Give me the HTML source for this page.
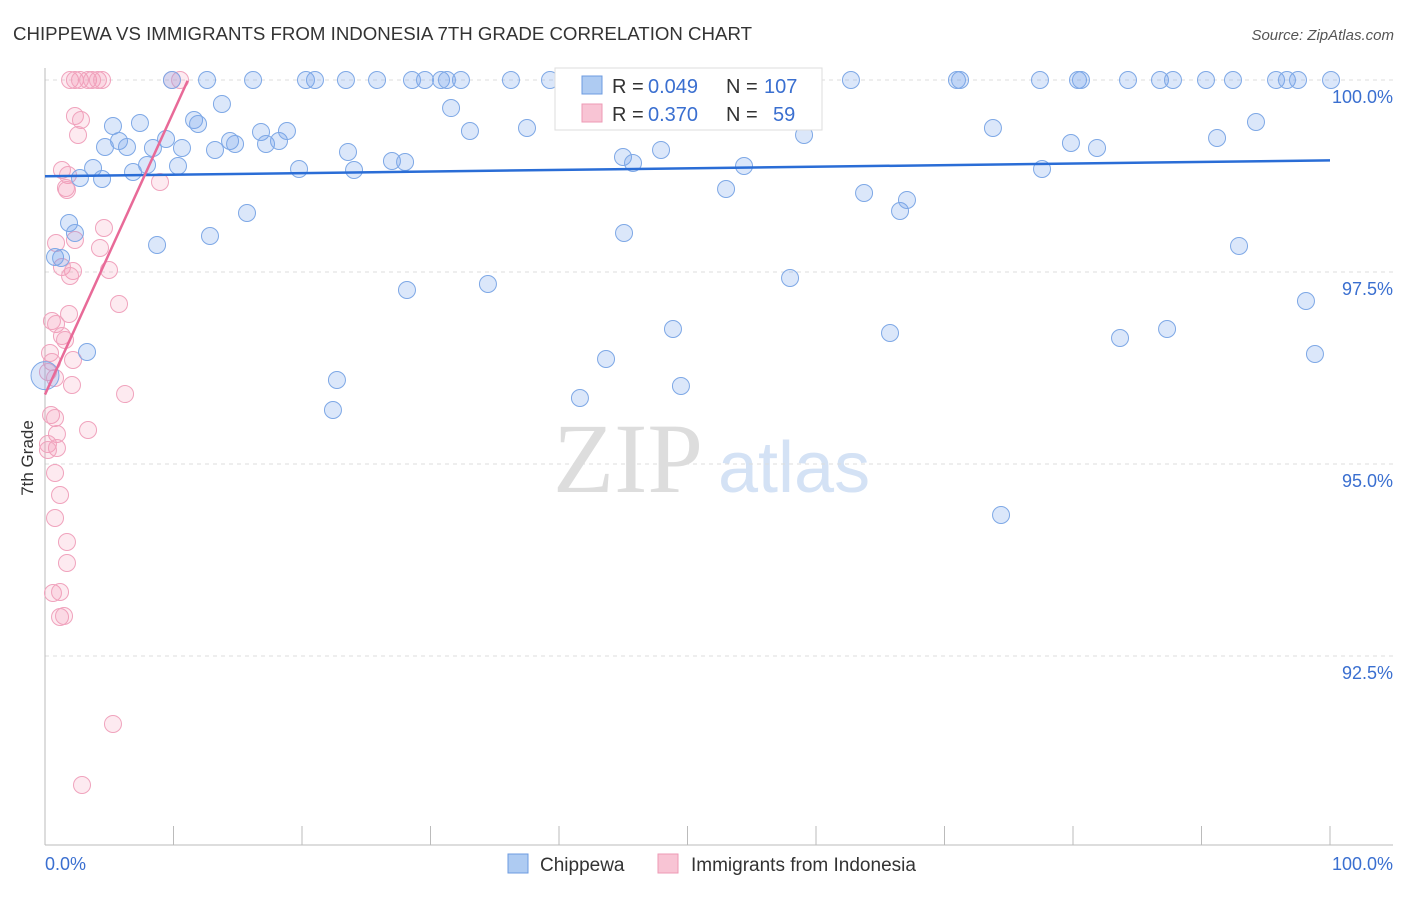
<!DOCTYPE html>
<html><head><meta charset="utf-8"><style>
body{margin:0;background:#fff;font-family:"Liberation Sans",sans-serif}
svg text{font-family:"Liberation Sans",sans-serif}
</style></head><body>
<svg id="c" width="1406" height="892" xmlns="http://www.w3.org/2000/svg">
<text x="13" y="40" font-size="18" fill="#333" textLength="739" lengthAdjust="spacingAndGlyphs">CHIPPEWA VS IMMIGRANTS FROM INDONESIA 7TH GRADE CORRELATION CHART</text>
<text x="1394" y="40" font-size="15" fill="#555" text-anchor="end" font-style="italic">Source: ZipAtlas.com</text>
<text x="0" y="0" transform="translate(33,458) rotate(-90)" font-size="17" fill="#333" text-anchor="middle">7th Grade</text>
<g><text x="553" y="492" font-size="100" fill="#ddd" font-family="Liberation Serif" style="font-family:'Liberation Serif',serif">ZIP</text><text x="718" y="492" font-size="72" fill="#d4e2f5">atlas</text></g>
<g id="grid"></g><g id="axes"></g><g id="pts"></g><g id="trend"></g>
<g>
<rect x="555" y="68" width="267" height="62" fill="#fff" stroke="#ddd"/>
<rect x="582" y="76" width="20" height="18" fill="#aecbf2" stroke="#6c9be0"/>
<text y="93" font-size="20" fill="#333"><tspan x="612">R =</tspan><tspan x="648" fill="#3a6fd0">0.049</tspan><tspan x="726">N =</tspan><tspan x="764" fill="#3a6fd0">107</tspan></text>
<rect x="582" y="104" width="20" height="18" fill="#f8c4d4" stroke="#ee9ab5"/>
<text y="121" font-size="20" fill="#333"><tspan x="612">R =</tspan><tspan x="648" fill="#3a6fd0">0.370</tspan><tspan x="726">N =</tspan><tspan x="773" fill="#3a6fd0">59</tspan></text>
</g>
<g>
<rect x="508" y="854" width="20" height="19" fill="#aecbf2" stroke="#6c9be0"/>
<text x="540" y="871" font-size="19" fill="#333">Chippewa</text>
<rect x="658" y="854" width="20" height="19" fill="#f8c4d4" stroke="#ee9ab5"/>
<text x="691" y="871" font-size="19" fill="#333">Immigrants from Indonesia</text>
</g>
</svg>
<script>
const yTicks=[100,97.5,95,92.5];
const yTickLabels=["100.0%","97.5%","95.0%","92.5%"];
const xTickLabels=["0.0%","100.0%"];
const bluePx=[[172,80],[207,80],[253,80],[306,80],[315,80],[346,80],[377,80],[412,80],[425,80],[441,80],[447,80],[461,80],[511,80],[550,80],[642,80],[708,80],[764,80],[851,80],[957,80],[960,80],[1040,80],[1078,80],[1081,80],[1128,80],[1160,80],[1173,80],[1206,80],[1233,80],[1276,80],[1287,80],[1298,80],[1331,80],
[194,120],[222,104],[113,126],[140,123],[119,141],[105,147],[127,147],[153,148],[166,139],[182,148],[198,124],[215,150],[230,141],[235,144],[261,132],[266,144],[279,141],[287,131],[93,168],[80,178],[102,179],[133,172],[178,166],[147,165],[69,223],[75,233],[55,257],[61,258],[157,245],[210,236],[247,213],[299,169],[348,152],[354,170],[392,161],[405,162],[451,108],[470,131],[527,128],[623,157],[633,163],[661,150],[726,189],[744,166],[804,135],[864,193],[900,211],[907,200],[624,233],[407,290],[488,284],[790,278],[1042,169],[1071,143],[1097,148],[1217,138],[1256,122],[1239,246],[1306,301],[1315,354],[1120,338],[1167,329],[890,333],[673,329],[606,359],[580,398],[681,386],[337,380],[333,410],[87,352],[1001,515],[993,128]];
const pinkPx=[[70,80],[75,80],[80,80],[88,80],[92,80],[98,80],[102,80],[172,80],[180,80],[75,116],[81,120],[78,135],[62,170],[68,175],[66,188],[67,190],[160,182],[104,228],[75,240],[56,243],[100,248],[62,267],[73,271],[70,276],[109,270],[119,304],[69,314],[52,321],[56,324],[62,336],[65,340],[50,353],[73,360],[52,362],[48,372],[55,378],[72,385],[125,394],[51,415],[55,418],[88,430],[57,434],[48,444],[57,448],[55,473],[60,495],[55,518],[67,542],[67,563],[53,593],[60,592],[60,617],[64,616],[113,724],[82,785],[48,450]];
const toData=p=>[+((p[0]-45)/12.85).toFixed(2),+(100-(p[1]-80)/76.8).toFixed(3)];
const blueX=bluePx.map(p=>toData(p)[0]), blueY=bluePx.map(p=>toData(p)[1]);
const pinkX=pinkPx.map(p=>toData(p)[0]), pinkY=pinkPx.map(p=>toData(p)[1]);
const blueTrend=[[0,98.746],[100,98.954]];
const pinkTrend=[[0,95.904],[11.1,99.99]];
const sx=v=>45+v*12.85, sy=v=>80+(100-v)*76.8;
const NS="http://www.w3.org/2000/svg";
function mk(tag,attrs,parent){const e=document.createElementNS(NS,tag);for(const k in attrs)e.setAttribute(k,attrs[k]);document.getElementById(parent).appendChild(e);return e;}
yTicks.forEach((t,i)=>{
 const l=mk('line',{x1:45,x2:1393,y1:sy(t),y2:sy(t),stroke:'#ddd','stroke-dasharray':'4,4'},'grid');
 
 
 const tx=mk('text',{x:1393,y:sy(t)+23,'font-size':18,fill:'#3a6fd0','text-anchor':'end'},'axes');
 tx.textContent=yTickLabels[i];
 
 
});
let a=mk('line',{x1:45,x2:45,y1:68,y2:845,stroke:'#bbb'},'axes');


a=mk('line',{x1:45,x2:1393,y1:845,y2:845,stroke:'#bbb'},'axes');


for(let i=0;i<=10;i++){const t=mk('line',{x1:sx(i*10),x2:sx(i*10),y1:826,y2:845,stroke:'#bbb'},'axes');
 
 }
[[0,'start',45],[1,'end',1393]].forEach(([i,an,x])=>{const t=mk('text',{x:x,y:870,'font-size':18,fill:'#3a6fd0','text-anchor':an},'axes');t.textContent=xTickLabels[i];
 
 });
function dots(X,Y,fill,stroke,name){X.forEach((x,i)=>{const c=mk('circle',{cx:sx(x),cy:sy(Y[i]),r:8.5,fill:fill,stroke:stroke,'stroke-width':1},'pts');
 
 });}
dots(pinkX,pinkY,'rgba(244,150,180,0.2)','#f0a3bd','indonesia-point');
dots(blueX,blueY,'rgba(110,160,235,0.25)','#7ea8e6','chippewa-point');
const big=mk('circle',{cx:sx(0),cy:sy(96.15),r:14,fill:'rgba(110,160,235,0.25)',stroke:'#7ea8e6'},'pts');


let tl=mk('line',{x1:sx(blueTrend[0][0]),y1:sy(blueTrend[0][1]),x2:sx(blueTrend[1][0]),y2:sy(blueTrend[1][1]),stroke:'#2a6dd6','stroke-width':2.5},'trend');


tl=mk('line',{x1:sx(pinkTrend[0][0]),y1:sy(pinkTrend[0][1]),x2:sx(pinkTrend[1][0]),y2:sy(pinkTrend[1][1]),stroke:'#e86a98','stroke-width':2.5},'trend');


</script>
</body></html>
